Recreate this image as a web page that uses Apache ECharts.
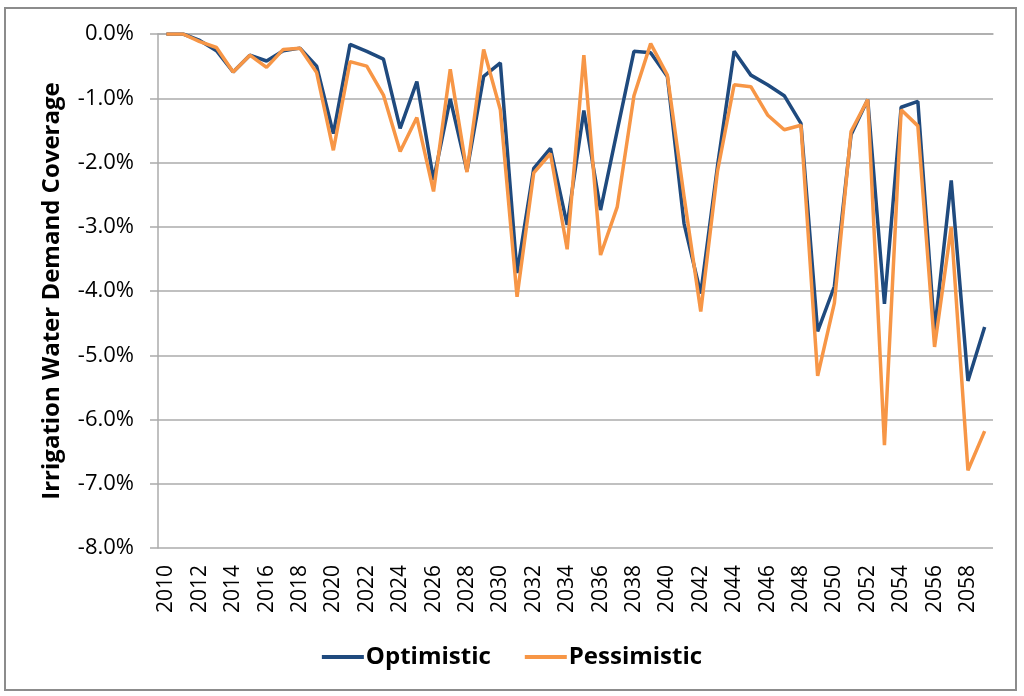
<!DOCTYPE html>
<html>
<head>
    <meta charset="utf-8">
    <title>Irrigation Water Demand Coverage</title>
    <script src="https://cdn.jsdelivr.net/npm/echarts@6/dist/echarts.min.js"></script>
    <style>
        html, body { margin: 0; padding: 0; background: #fff; }
    </style>
</head>
<body>
    <!-- chart container -->
    <div id="main" style="width: 1024px;height:696px;"></div>

    <script type="text/javascript">

var years = ['2010', '2011', '2012', '2013', '2014', '2015', '2016', '2017', '2018', '2019',
             '2020', '2021', '2022', '2023', '2024', '2025', '2026', '2027', '2028', '2029',
             '2030', '2031', '2032', '2033', '2034', '2035', '2036', '2037', '2038', '2039',
             '2040', '2041', '2042', '2043', '2044', '2045', '2046', '2047', '2048', '2049',
             '2050', '2051', '2052', '2053', '2054', '2055', '2056', '2057', '2058', '2059'];

// values in percent
var optimistic = [0.00, 0.00, -0.10, -0.26, -0.59, -0.33, -0.42, -0.26, -0.22, -0.50,
                  -1.55, -0.16, -0.27, -0.39, -1.47, -0.74, -2.27, -1.01, -2.13, -0.66,
                  -0.45, -3.72, -2.09, -1.78, -2.97, -1.19, -2.74, -1.50, -0.27, -0.29,
                  -0.66, -2.95, -4.04, -2.06, -0.27, -0.64, -0.79, -0.96, -1.39, -4.63,
                  -3.93, -1.57, -1.02, -4.20, -1.14, -1.05, -4.62, -2.28, -5.40, -4.56];

var pessimistic = [0.00, 0.00, -0.12, -0.21, -0.59, -0.33, -0.52, -0.24, -0.22, -0.60,
                   -1.81, -0.43, -0.50, -0.95, -1.83, -1.30, -2.45, -0.55, -2.15, -0.24,
                   -1.18, -4.09, -2.16, -1.86, -3.35, -0.33, -3.44, -2.69, -0.96, -0.15,
                   -0.64, -2.53, -4.32, -2.14, -0.79, -0.82, -1.26, -1.49, -1.42, -5.32,
                   -4.19, -1.52, -1.02, -6.40, -1.18, -1.43, -4.87, -3.00, -6.79, -6.18];

var font = '"Open Sans", "Liberation Sans", sans-serif';
var gray = '#ababab';

var myChart = echarts.init(document.getElementById('main'));

myChart.setOption({
    animation: false,
    textStyle: { fontFamily: font },
    graphic: [{
        type: 'rect',
        shape: { x: 5, y: 8, width: 1011, height: 682 },
        style: { fill: null, stroke: '#8c8c8c', lineWidth: 2 },
        silent: true
    }],
    grid: {
        left: 158,
        right: 31,
        top: 34,
        bottom: 148
    },
    legend: {
        data: ['Optimistic', 'Pessimistic'],
        left: 'center',
        top: 640,
        icon: 'rect',
        itemWidth: 42,
        itemHeight: 4,
        itemGap: 34,
        textStyle: {
            fontFamily: font,
            fontWeight: 'bold',
            fontSize: 24,
            color: '#000',
            padding: [0, 0, 0, -3]
        }
    },
    xAxis: {
        type: 'category',
        data: years,
        boundaryGap: true,
        axisLine: { lineStyle: { color: gray, width: 1.5 } },
        axisTick: {
            interval: 0,
            length: 7,
            lineStyle: { color: gray, width: 1.5 }
        },
        axisLabel: {
            interval: 1,
            rotate: 90,
            margin: 17,
            fontSize: 21,
            color: '#000',
            fontFamily: font
        },
        splitLine: { show: false }
    },
    yAxis: {
        type: 'value',
        min: -8,
        max: 0,
        interval: 1,
        name: 'Irrigation Water Demand Coverage',
        nameLocation: 'middle',
        nameGap: 94,
        nameTextStyle: {
            fontFamily: font,
            fontWeight: 'bold',
            fontSize: 24,
            color: '#000'
        },
        axisLine: { show: true, lineStyle: { color: gray, width: 1.5 } },
        axisTick: {
            show: true,
            length: 8,
            lineStyle: { color: gray, width: 1.5 }
        },
        axisLabel: {
            margin: 24,
            fontSize: 22,
            color: '#000',
            fontFamily: font,
            formatter: function (v) { return v.toFixed(1) + '%'; }
        },
        splitLine: { lineStyle: { color: gray, width: 1.5 } }
    },
    series: [{
        name: 'Optimistic',
        type: 'line',
        data: optimistic,
        showSymbol: false,
        symbol: 'none',
        itemStyle: { color: '#1f4a7e' },
        lineStyle: { color: '#1f4a7e', width: 3.5 }
    },
    {
        name: 'Pessimistic',
        type: 'line',
        data: pessimistic,
        showSymbol: false,
        symbol: 'none',
        itemStyle: { color: '#f79646' },
        lineStyle: { color: '#f79646', width: 3.5 }
    }]
});
</script>

</body>
</html>
